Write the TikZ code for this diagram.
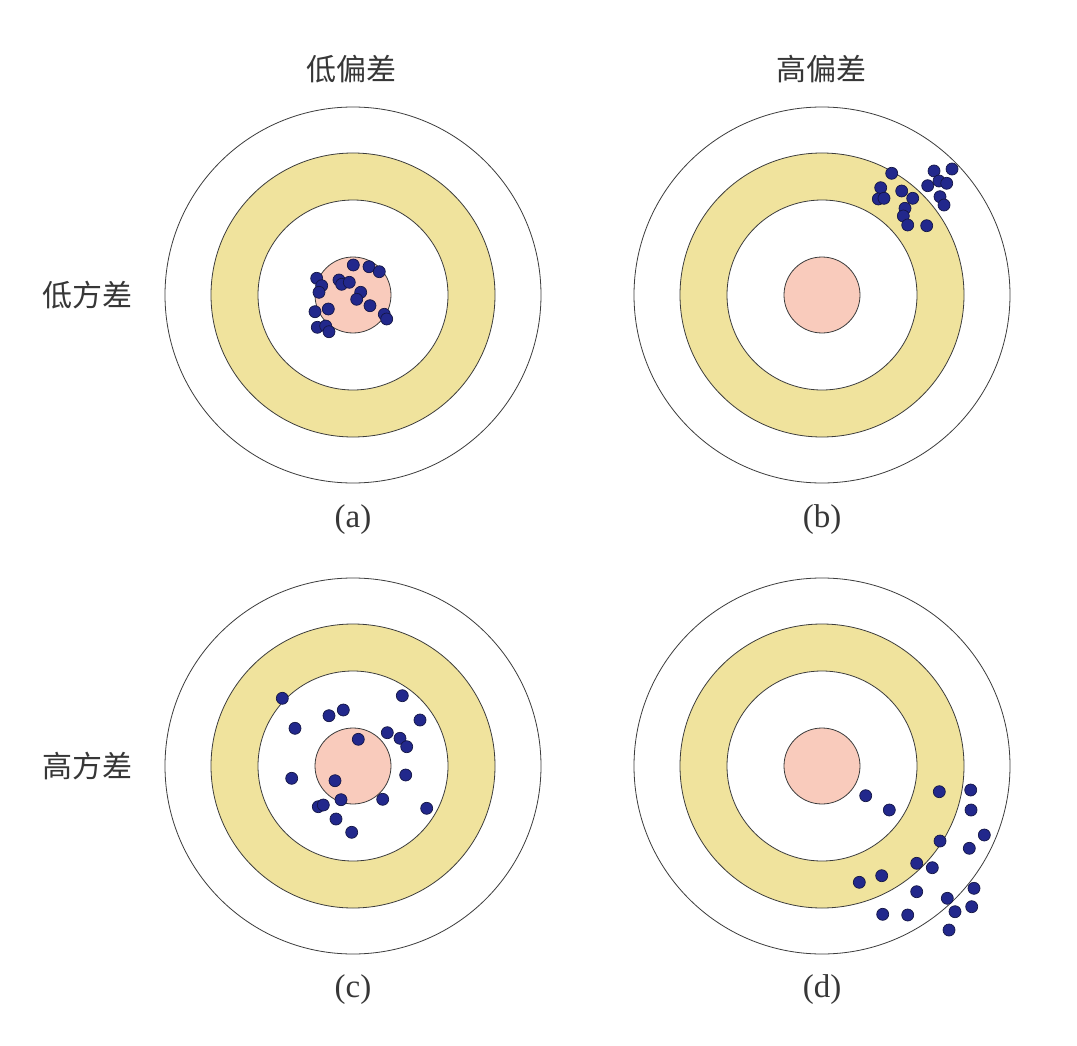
\documentclass[tikz,border=0pt]{standalone}
\usepackage{fontspec}
\setmainfont{Liberation Serif}
\newfontfamily\cjk{Noto Sans CJK SC}[Scale=1]
\definecolor{ringyellow}{RGB}{240,227,157}
\definecolor{bullpink}{RGB}{249,203,188}
\definecolor{dotblue}{RGB}{34,40,140}
\definecolor{dotedge}{RGB}{20,22,70}
\definecolor{ringline}{RGB}{60,60,60}
\definecolor{textgray}{RGB}{55,55,55}
\begin{document}
\begin{tikzpicture}[x=1pt,y=-1pt,
  ring/.style={draw=ringline,line width=0.8pt},
  dot/.style={fill=dotblue,draw=dotedge,line width=0.7pt},
  cjklabel/.style={font=\cjk\fontsize{30}{32}\selectfont,inner sep=0pt,text=textgray},
  caplabel/.style={font=\fontsize{33}{36}\selectfont,inner sep=0pt,text=textgray}]
\useasboundingbox (0,0) rectangle (1077,1046);
\fill[white] (0,0) rectangle (1077,1046);
% targets
\foreach \cx/\cy in {353/295, 822/295, 353/766, 822/766}{
  \draw[ring,fill=white] (\cx,\cy) circle[radius=188];
  \draw[ring,fill=ringyellow] (\cx,\cy) circle[radius=142];
  \draw[ring,fill=white] (\cx,\cy) circle[radius=95];
  \draw[ring,fill=bullpink] (\cx,\cy) circle[radius=38];
}
% (a) low bias low variance
\foreach \x/\y in {353.3/265,369/266.7,379.3/271.7,316.7/278.3,321.7/285.7,319/292.3,339/280,341.7/284.3,349.3/282.3,360.7/292.3,356.7/299.3,370/305.7,384.3/314.3,386.7/319,315/311.7,328.3/309,317.3/327.3,325.7/326,329/331.7}
  \draw[dot] (\x,\y) circle[radius=6];
% (b) high bias low variance
\foreach \x/\y in {891.7/173.3,934/171,952/169,939/181,946.7/183.3,927.7/185.7,880.7/187.7,901.7/191,912.7/198.3,878.3/199,884/198.3,940/196.7,944/205,905/208.3,903.3/216,907.7/225,926.7/225.7}
  \draw[dot] (\x,\y) circle[radius=6];
% (c) low bias high variance
\foreach \x/\y in {282.3/698.3,402.3/695.7,329/715.7,343.3/710,420/720,295/728.3,358.3/739.3,387.3/732.7,400/738.3,406.7/746.7,291.7/778.3,335/780.7,405.7/775,341/799.7,382.7/799.3,318.3/806.7,323.3/805,426.7/808.3,336/819,351.7/832.3}
  \draw[dot] (\x,\y) circle[radius=6];
% (d) high bias high variance
\foreach \x/\y in {865.7/795.7,889.3/810,939.3/791.7,970.7/790,971/810,984.3/835,940/841,969.3/848.3,916.7/863.3,932.3/867.7,859.3/882.3,881.7/875.7,916.7/891.7,974/888.3,947.3/898.3,955/911.7,971.7/906.7,882.7/914.3,907.7/915,949/930}
  \draw[dot] (\x,\y) circle[radius=6];
% labels
\node[cjklabel] (lowbias) at (351,69) {低偏差};
\node[cjklabel] (highbias) at (821,69) {高偏差};
\node[cjklabel] (lowvar) at (87,295) {低方差};
\node[cjklabel] (highvar) at (87,766) {高方差};
\node[caplabel] (capa) at (353,520) {(a)};
\node[caplabel] (capb) at (822,520) {(b)};
\node[caplabel] (capc) at (353,990) {(c)};
\node[caplabel] (capd) at (822,990) {(d)};
\end{tikzpicture}
\end{document}
